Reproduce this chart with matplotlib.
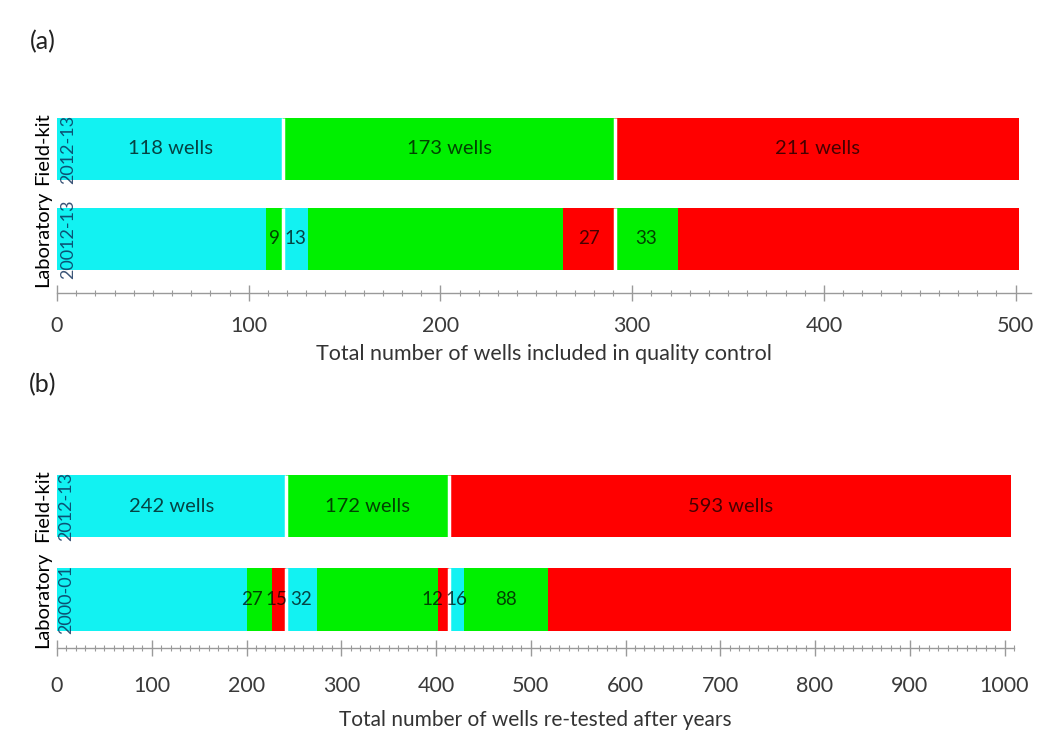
import matplotlib
matplotlib.use("Agg")
import matplotlib.pyplot as plt
from matplotlib.ticker import MultipleLocator
import numpy as np

# ---------------- data ----------------
# panel (a)
a_fk_values = [118, 173, 211]
a_fk_colors = ["cyan", "green", "red"]
a_fk_labels = ["118 wells", "173 wells", "211 wells"]
a_lab_values = [109, 9, 13, 133, 27, 33, 178]
a_lab_colors = ["cyan", "green", "cyan", "green", "red", "green", "red"]
a_lab_labels = ["", "9", "13", "", "27", "33", ""]
a_rows = ["Field-kit", "Laboratory"]
a_years = ["2012-13", "20012-13"]
a_xticks = [0, 100, 200, 300, 400, 500]
a_xlabel = "Total number of wells included in quality control"

# panel (b)
b_fk_values = [242, 172, 593]
b_fk_colors = ["cyan", "green", "red"]
b_fk_labels = ["242 wells", "172 wells", "593 wells"]
b_lab_values = [200, 27, 15, 32, 128, 12, 16, 88, 489]
b_lab_colors = ["cyan", "green", "red", "cyan", "green", "red", "cyan", "green", "red"]
b_lab_labels = ["", "27", "15", "32", "", "12", "16", "88", ""]
b_rows = ["Field-kit", "Laboratory"]
b_years = ["2012-13", "2000-01"]
b_xticks = [0, 100, 200, 300, 400, 500, 600, 700, 800, 900, 1000]
b_xlabel = "Total number of wells re-tested after years"

PALETTE = {"cyan": "#12F2F2", "green": "#00F000", "red": "#FF0000"}
FONT = "Lato"

W, H = 1050, 747
fig = plt.figure(figsize=(W / 100, H / 100), dpi=100)
plt.rcParams["font.family"] = [FONT, "DejaVu Sans"]


def px_axes(left, top, right, bottom):
    return fig.add_axes([left / W, 1 - bottom / H, (right - left) / W, (bottom - top) / H])


def draw_panel(ax, fk_vals, fk_cols, fk_labs, lab_vals, lab_cols, lab_labs,
               rows, years, xticks, xlabel, xmax, ylim, bh, lab_x, year_x,
               tick_pad, label_pad, xlabel_size):
    y_fk, y_lab = 1, 0
    ax.set_xlim(0, xmax)
    ax.set_ylim(*ylim)
    # field-kit bar
    left = 0
    for v, c, t in zip(fk_vals, fk_cols, fk_labs):
        ax.barh(y_fk, v, left=left, height=bh, color=PALETTE[c], edgecolor="none", zorder=2)
        ax.text(left + v / 2, y_fk, t, ha="center", va="center", fontsize=14.5,
                color="black", alpha=0.72, zorder=4)
        left += v
    # laboratory bar
    left = 0
    texts = []
    for v, c, t in zip(lab_vals, lab_cols, lab_labs):
        ax.barh(y_lab, v, left=left, height=bh, color=PALETTE[c], edgecolor="none", zorder=2)
        if t:
            texts.append(ax.text(left + v / 2, y_lab, t, ha="center", va="center",
                                 fontsize=13.5, color="black", alpha=0.72, zorder=4))
        left += v
    # nudge crowded labels to the left so they don't collide
    fig.canvas.draw()
    r = fig.canvas.get_renderer()
    inv = ax.transData.inverted()
    for i in range(len(texts) - 2, -1, -1):
        a_bb = texts[i].get_window_extent(r)
        b_bb = texts[i + 1].get_window_extent(r)
        overlap = a_bb.x1 - (b_bb.x0 - 3)
        if overlap > 0:
            x, y = texts[i].get_position()
            px, py = ax.transData.transform((x, y))
            nx, _ = inv.transform((px - overlap, py))
            texts[i].set_position((nx, y))

    # white separators at field-kit group boundaries
    bounds = np.cumsum(fk_vals)[:-1]
    ax.vlines(bounds, y_fk - bh / 2, y_fk + bh / 2, colors="white", lw=2.5, zorder=3)
    ax.vlines(bounds, y_lab - bh / 2, y_lab + bh / 2, colors="white", lw=2.5, zorder=3)

    ax.set_yticks([])
    for s in ["left", "right", "top"]:
        ax.spines[s].set_visible(False)
    ax.spines["bottom"].set_color("#9a9a9a")
    ax.spines["bottom"].set_linewidth(1.0)
    ax.set_xticks(xticks)
    ax.xaxis.set_minor_locator(MultipleLocator(10))
    ax.tick_params(axis="x", which="major", direction="inout", length=11, width=1,
                   color="#9a9a9a", labelsize=15.5, labelcolor="#3a3a3a", pad=tick_pad)
    ax.tick_params(axis="x", which="minor", direction="inout", length=5, width=0.8,
                   color="#9a9a9a")
    ax.set_xlabel(xlabel, fontsize=xlabel_size, color="#333333", labelpad=label_pad)

    tr = ax.get_yaxis_transform()
    for yy, name, yr in zip([y_fk, y_lab], rows, years):
        ax.text(lab_x, yy, name, rotation=90, ha="center", va="center", fontsize=14.5,
                color="black", transform=tr, clip_on=False, zorder=5)
        ax.text(year_x, yy, yr, rotation=90, ha="center", va="center", fontsize=13,
                color="#0a2a55", alpha=0.8, transform=tr, clip_on=False, zorder=5)


# panel (a)
ax1 = px_axes(57, 113, 1031, 293)
w1 = 1031 - 57
draw_panel(ax1, a_fk_values, a_fk_colors, a_fk_labels, a_lab_values, a_lab_colors,
           a_lab_labels, a_rows, a_years, a_xticks, a_xlabel, 508, (-0.6, 1.4), 0.69,
           (43 - 57) / w1, (68 - 57) / w1, 11, 6, 15.5)

# panel (b)
ax2 = px_axes(57, 464, 1014, 648)
w2 = 1014 - 57
draw_panel(ax2, b_fk_values, b_fk_colors, b_fk_labels, b_lab_values, b_lab_colors,
           b_lab_labels, b_rows, b_years, b_xticks, b_xlabel, 1010, (-0.52, 1.45), 0.67,
           (43 - 57) / w2, (66 - 57) / w2, 15, 10, 15)

fig.text(43 / W, 1 - 42 / H, "(a)", fontsize=18, ha="center", va="center", color="#222222")
fig.text(43 / W, 1 - 385 / H, "(b)", fontsize=18, ha="center", va="center", color="#222222")

fig.savefig("out.png", dpi=100)
